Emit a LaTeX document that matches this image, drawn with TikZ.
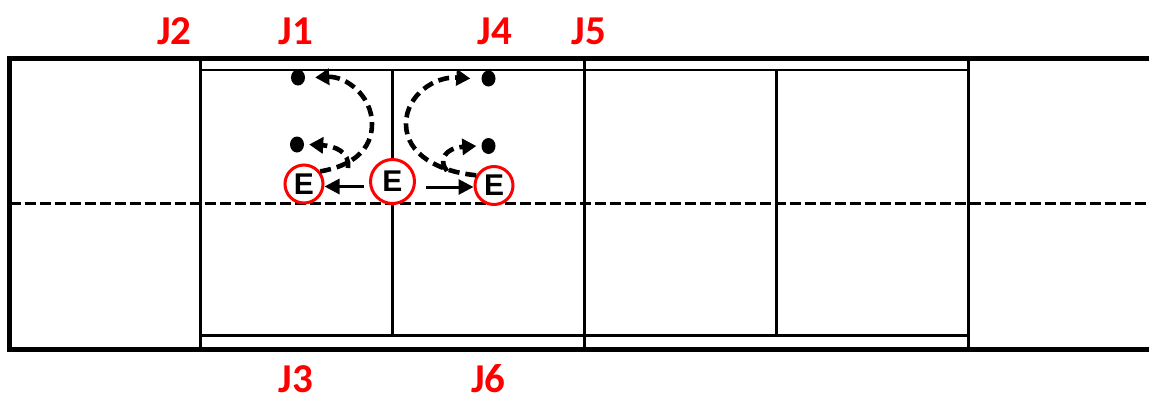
\documentclass[tikz,border=0pt]{standalone}
\usepackage{fontspec}
\setmainfont{Liberation Sans}
\newfontfamily\labelfont{Carlito}
\usetikzlibrary{arrows.meta,shapes.geometric}
\tikzset{
  outer/.style={line width=5pt,line cap=butt,line join=miter},
  major/.style={line width=3.2pt},
  minor/.style={line width=2.8pt},
  centre/.style={line width=3pt,dash pattern=on 11pt off 4pt},
  jlabel/.style={text=red,font=\labelfont\fontsize{41}{41}\selectfont\bfseries,inner sep=0pt},
  player/.style={circle,draw=red,line width=3pt,fill=white,inner sep=0pt,font=\fontsize{30}{30}\selectfont\bfseries},
  spot/.style={ellipse,fill=black,inner sep=0pt,minimum width=14pt,minimum height=16pt},
  run/.style={line width=4.6pt,dash pattern=on 11pt off 6pt,-{Triangle[length=14pt,width=16pt]}},
  move/.style={line width=3pt,-{Triangle[length=15pt,width=15pt]}}
}
\begin{document}
\begin{tikzpicture}[x=1pt,y=-1pt]
\useasboundingbox[fill=white] (0,0) rectangle (1149,394);
\coordinate (tl) at (9.5,58.5);
\coordinate (bl) at (9.5,349.5);
\coordinate (tr) at (1149,58.5);
\coordinate (br) at (1149,349.5);
\coordinate (cl) at (9.5,203);
\coordinate (cr) at (1149,203);
\draw[minor] (200,70) -- (968,70);
\draw[minor] (200,335.5) -- (968,335.5);
\draw[minor] (392.5,70) -- (392.5,335.5);
\draw[minor] (776.5,70) -- (776.5,335.5);
\draw[major] (200.5,58.5) -- (200.5,349.5);
\draw[major] (584.5,58.5) -- (584.5,349.5);
\draw[major] (968.5,58.5) -- (968.5,349.5);
\draw[centre] (cl) -- (cr);
\draw[outer] (tr) -- (tl) -- (bl) -- (br);
\node[jlabel] (j2) at (174.5,31) {J2};
\node[jlabel] (j1) at (296,31) {J1};
\node[jlabel] (j4) at (495,31) {J4};
\node[jlabel] (j5) at (589,31) {J5};
\node[jlabel] (j3) at (296,379) {J3};
\node[jlabel] (j6) at (488.5,379) {J6};
\node[player,minimum size=38pt] (e1) at (304,184) {E};
\node[player,minimum size=44pt] (e2) at (392.5,181.5) {E};
\node[player,minimum size=38pt] (e3) at (494,185.5) {E};
\node[spot] (d1) at (298,77.5) {};
\node[spot] (d2) at (297,144.5) {};
\node[spot] (d3) at (488.5,78.5) {};
\node[spot] (d4) at (488.5,146) {};
\draw[run] (e1.38) .. controls (352,166) and (372,150) .. (372,124)
  .. controls (372,95) and (345,76) .. ([xshift=10pt]d1.east);
\draw[run] (348,168) .. controls (350,152) and (335,146) .. ([xshift=5pt]d2.east);
\draw[run] (e3.150) .. controls (440,172) and (406,155) .. (406,124)
  .. controls (406,95) and (435,76) .. ([xshift=-11pt]d3.west);
\draw[run] (447,171) .. controls (438,160) and (445,148) .. ([xshift=-5pt]d4.west);
\draw[move] (364,186.5) -- (e1.east |- 0,186.5);
\draw[move] (426,187) -- (e3.west |- 0,187);
\end{tikzpicture}
\end{document}
